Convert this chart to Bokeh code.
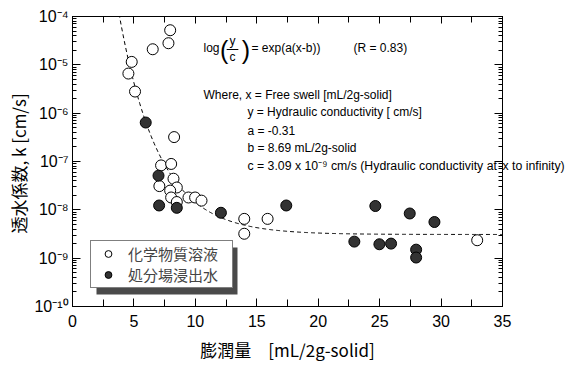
import numpy as np
from bokeh.plotting import figure
from bokeh.models import (LinearAxis, LogAxis, FixedTicker, LogTicker, Legend, LegendItem,
                          BoxAnnotation, Label, Range1d, CustomJSTickFormatter)
from bokeh.embed import file_html
from bokeh.resources import INLINE

# ---- data ----
chem_x = [7.95, 7.81, 6.53, 4.82, 4.55, 5.09, 8.27, 7.21, 8.03, 8.22, 7.07, 8.49, 7.95,
          8.03, 8.49, 9.44, 9.98, 10.5, 13.98, 13.98, 15.88, 32.94]
chem_y = [5.2e-5, 2.8e-5, 2.1e-5, 1.15e-5, 6.6e-6, 2.8e-6, 3.2e-7, 8.3e-8, 8.9e-8, 4.4e-8,
          3.1e-8, 2.9e-8, 2.5e-8, 1.8e-8, 1.45e-8, 1.8e-8, 1.8e-8, 1.55e-8, 6.5e-9, 3.2e-9,
          6.5e-9, 2.35e-9]
leach_x = [5.96, 7.0, 7.05, 8.49, 12.08, 17.4, 22.94, 24.65, 24.98, 25.93, 27.45, 27.97,
           27.97, 29.46]
leach_y = [6.4e-7, 5.1e-8, 1.23e-8, 1.1e-8, 8.7e-9, 1.23e-8, 2.2e-9, 1.2e-8, 1.94e-9,
           2.0e-9, 8.4e-9, 1.5e-9, 1.03e-9, 5.6e-9]

# fit parameters as printed on the chart
fit_a = -0.31
fit_b = 8.69
fit_c = 3.09e-9

x_ticks = [0, 5, 10, 15, 20, 25, 30, 35]
series_names = ["化学物質溶液", "処分場浸出水"]

JP = "Noto Sans CJK JP"
SANS = "Liberation Sans"

p = figure(frame_width=430, frame_height=290, x_range=Range1d(0, 35),
           y_range=Range1d(1e-10, 1e-4), y_axis_type="log", output_backend="svg",
           toolbar_location=None,
           min_border_left=72, min_border_right=63, min_border_top=16, min_border_bottom=57)
p.grid.visible = False
p.outline_line_color = "black"
p.outline_line_width = 1
p.background_fill_color = "white"

sup = CustomJSTickFormatter(code="""
const m = {'-':'\u207b','0':'\u2070','1':'\u00b9','2':'\u00b2','3':'\u00b3','4':'\u2074','5':'\u2075','6':'\u2076','7':'\u2077','8':'\u2078','9':'\u2079'};
const e = Math.round(Math.log10(tick));
return '10' + String(e).split('').map(c => m[c]).join('');
""")
blank = CustomJSTickFormatter(code="return '';")

def style_axis(ax):
    ax.axis_line_color = "black"
    ax.major_tick_line_color = "black"
    ax.minor_tick_line_color = "black"
    ax.major_tick_out = 0
    ax.minor_tick_out = 0
    ax.major_label_text_font = SANS
    ax.major_label_text_color = "black"
    ax.major_label_text_font_size = "16px"
    ax.axis_label_text_font = JP
    ax.axis_label_text_font_style = "normal"
    ax.axis_label_text_font_size = "17px"
    ax.axis_label_text_color = "black"

xa = p.xaxis[0]
xa.ticker = FixedTicker(ticks=x_ticks, minor_ticks=[2.5 + 5 * i for i in range(7)])
style_axis(xa)
xa.major_tick_in = 8
xa.minor_tick_in = 7
xa.major_label_standoff = 8
xa.axis_label = "膨潤量\u3000[mL/2g-solid]"
xa.axis_label_standoff = 7

ya = p.yaxis[0]
ya.ticker = LogTicker(num_minor_ticks=10)
ya.formatter = sup
style_axis(ya)
ya.major_tick_in = 8
ya.minor_tick_in = 4
ya.major_label_standoff = 4
ya.axis_label = "透水係数, k  [cm/s]"
ya.axis_label_standoff = 0

top = LinearAxis(ticker=FixedTicker(ticks=x_ticks, minor_ticks=[2.5 + 5 * i for i in range(7)]),
                 formatter=blank)
style_axis(top)
top.major_tick_in = 7
top.minor_tick_in = 6
top.major_label_standoff = 0
p.add_layout(top, "above")

right = LogAxis(ticker=LogTicker(num_minor_ticks=10), formatter=blank)
style_axis(right)
right.major_tick_in = 8
right.minor_tick_in = 4
right.major_label_standoff = 0
p.add_layout(right, "right")

# fit curve from printed parameters
xf = np.linspace(3.5, 35, 400)
yf = fit_c * 10 ** np.exp(fit_a * (xf - fit_b))
p.line(xf, yf, line_color="black", line_width=1, line_dash="4 3")

r_chem = p.scatter(chem_x, chem_y, size=11, marker="circle", fill_color="white",
                   line_color="black", line_width=1)
r_leach = p.scatter(leach_x, leach_y, size=11, marker="circle", fill_color="#333333",
                    line_color="black", line_width=1)

# legend drop shadow
shadow = BoxAnnotation(left=1.953, right=13.43, bottom=10 ** -9.752, top=10 ** -8.78,
                       fill_color="#4a4a4a", fill_alpha=1, line_alpha=0)
p.add_layout(shadow)

legend = Legend(items=[LegendItem(label=series_names[0], renderers=[r_chem]),
                       LegendItem(label=series_names[1], renderers=[r_leach])],
                location=(18, 18), border_line_color="black", border_line_width=1,
                background_fill_color="white", background_fill_alpha=1,
                label_text_font=JP, label_text_font_size="15px",
                glyph_width=30, glyph_height=17, label_height=17, label_width=102,
                padding=2, spacing=0, label_standoff=5, margin=0)
p.add_layout(legend, "center")

def lab(x, ly, text, size="12px", **kw):
    p.add_layout(Label(x=x, y=10 ** ly, text=text, text_font=SANS, text_font_size=size,
                       text_baseline="middle", text_color="black", **kw))

lab(10.66, -4.662, "log")
lab(12.0, -4.683, "(", size="25px")
lab(13.02, -4.497, "y", text_align="center")
lab(13.02, -4.848, "c", text_align="center")
lab(13.78, -4.683, ")", size="25px")
lab(14.57, -4.662, "= exp(a(x-b))")
lab(22.87, -4.662, "(R = 0.83)")
p.line([12.55, 13.5], [10 ** -4.683, 10 ** -4.683], line_color="black", line_width=1)

lab(10.66, -5.614, "Where, x = Free swell [mL/2g-solid]")
lab(14.24, -5.986, "y = Hydraulic conductivity [ cm/s]")
lab(14.24, -6.359, "a = -0.31")
lab(14.24, -6.731, "b = 8.69 mL/2g-solid")
note_y = -7.083
lab(14.24, note_y, "c = 3.09 x 10\u207b\u2079 cm/s  (Hydraulic conductivity at", size="12.3px")

# the end of that note runs past the right frame edge: drawn as an outer right-axis label
tail = LogAxis(ticker=FixedTicker(ticks=[10 ** note_y]),
               formatter=CustomJSTickFormatter(code="return 'x to infinity)';"))
tail.axis_line_color = None
tail.major_tick_in = 0
tail.major_tick_out = 0
tail.minor_tick_in = 0
tail.minor_tick_out = 0
tail.major_label_standoff = 0
tail.major_label_text_font = SANS
tail.major_label_text_font_size = "12.3px"
tail.major_label_text_color = "black"
p.add_layout(tail, "right")

open("out.html", "w").write(file_html(p, INLINE))
